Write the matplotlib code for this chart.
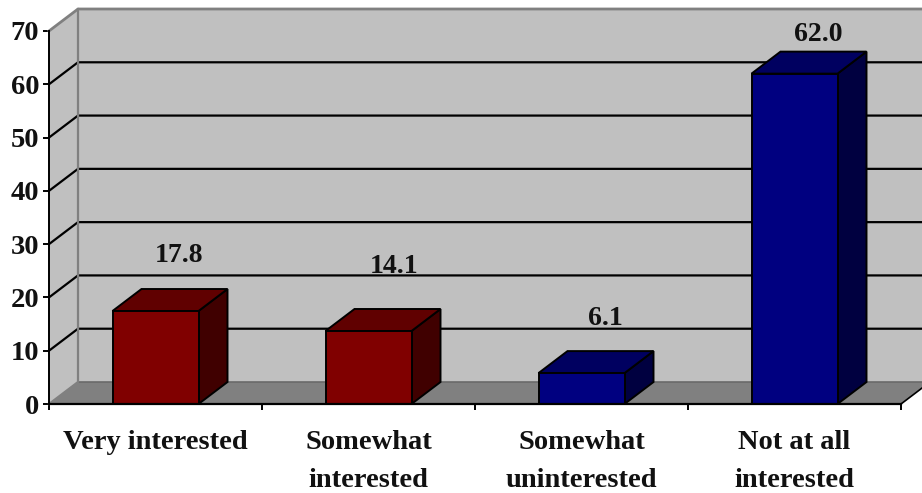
import matplotlib
matplotlib.use("Agg")
import matplotlib.pyplot as plt
from matplotlib.patches import Polygon

plt.rcParams['font.family'] = ['Liberation Serif', 'DejaVu Serif']
plt.rcParams['font.weight'] = 'bold'

categories = ["Very interested", "Somewhat\ninterested", "Somewhat\nuninterested", "Not at all\ninterested"]
value_labels = ["17.8", "14.1", "6.1", "62.0"]
# bar heights as drawn in the picture
heights = [17.45, 13.7, 5.8, 62.0]
y_ticks = [0, 10, 20, 30, 40, 50, 60, 70]

front_colors = ["#800000", "#800000", "#000080", "#000080"]
top_colors = ["#600000", "#600000", "#000060", "#000060"]
side_colors = ["#400000", "#400000", "#000040", "#000040"]
# label offset from the bar top, pixels right / up
label_offsets = [(23, 56), (26, 64), (24, 55), (24, 39)]

# pixel layout of the 3d box
px_per_band = 213
px_per_unit = 373 / 70
depth_x = 29 / px_per_band
depth_y = 22 / px_per_unit
bar_w = 86 / px_per_band

fig = plt.figure(figsize=(9.22, 4.93), dpi=100)
ax = fig.add_axes([0, 0, 1, 1])
ax.set_xlim(-49 / px_per_band, (922 - 49) / px_per_band)
ax.set_ylim(-(493 - 404) / px_per_unit, 404 / px_per_unit)
ax.patch.set_alpha(0)

n = len(categories)
x_right = (922 - 49) / px_per_band + 0.1
top = y_ticks[-1]
gray = "#808080"

# walls and floor
ax.add_patch(Polygon([(depth_x, depth_y), (x_right, depth_y), (x_right, top + depth_y), (depth_x, top + depth_y)],
                     fc="#c0c0c0", ec="none", zorder=1))
ax.add_patch(Polygon([(0, 0), (depth_x, depth_y), (depth_x, top + depth_y), (0, top)],
                     fc="#c0c0c0", ec="none", zorder=1))
ax.add_patch(Polygon([(0, 0), (x_right, 0), (x_right, depth_y), (depth_x, depth_y)],
                     fc=gray, ec="none", zorder=1))
ax.add_patch(Polygon([(n, 0), (x_right, 0), (x_right, depth_y * (x_right - n) / depth_x)],
                     fc="white", ec="none", zorder=1.2))
ax.plot([n, x_right], [0, depth_y * (x_right - n) / depth_x], color="black", lw=1.2, zorder=1.5)

# grid lines
for v in y_ticks[1:-1]:
    ax.plot([0, depth_x, x_right], [v, v + depth_y, v + depth_y], color="black", lw=1.6, zorder=2)
ax.plot([depth_x, x_right], [depth_y, depth_y], color="#6a6a6a", lw=1.2, zorder=2)
ax.plot([0, depth_x, depth_x], [0, depth_y, top + depth_y], color=gray, lw=1.6, zorder=2)
ax.plot([0, depth_x, x_right], [top, top + depth_y, top + depth_y], color=gray, lw=2, zorder=2)

# bars
for i, h in enumerate(heights):
    x0 = i + 0.5 - bar_w / 2
    x1 = x0 + bar_w
    ax.add_patch(Polygon([(x1, 0), (x1 + depth_x, depth_y), (x1 + depth_x, h + depth_y), (x1, h)],
                         fc=side_colors[i], ec="black", lw=1.4, zorder=3))
    ax.add_patch(Polygon([(x0, h), (x0 + depth_x, h + depth_y), (x1 + depth_x, h + depth_y), (x1, h)],
                         fc=top_colors[i], ec="black", lw=1.4, zorder=3))
    ax.add_patch(Polygon([(x0, 0), (x1, 0), (x1, h), (x0, h)],
                         fc=front_colors[i], ec="black", lw=1.4, zorder=3))
    dx, dy = label_offsets[i]
    ax.annotate(value_labels[i], (i + 0.5, h), xytext=(dx * 0.72, dy * 0.72), textcoords="offset points",
                ha="center", va="center", fontsize=20, fontweight="bold", color="#111111", zorder=4)

# axes
for side in ["top", "right"]:
    ax.spines[side].set_visible(False)
ax.spines["left"].set_position(("data", 0))
ax.spines["bottom"].set_position(("data", 0))
ax.spines["left"].set_bounds(0, top)
ax.spines["bottom"].set_bounds(0, n)
ax.spines["left"].set_linewidth(1.4)
ax.spines["bottom"].set_linewidth(1.6)
ax.spines["left"].set_zorder(5)
ax.spines["bottom"].set_zorder(5)

ax.set_yticks(y_ticks)
ax.set_yticklabels([str(v) for v in y_ticks], fontsize=20.5, fontweight="bold", color="#111111")
ax.tick_params(axis="y", length=4.5, width=1.4, pad=2.5)
ax.set_xticks(range(n + 1))
ax.set_xticklabels([])
ax.tick_params(axis="x", which="major", length=4.5, width=1.4)
ax.set_xticks([i + 0.5 for i in range(n)], categories, minor=True)
ax.tick_params(axis="x", which="minor", length=0, pad=19, labelsize=20.5, labelcolor="#111111")
for lab in ax.get_xticklabels(minor=True):
    lab.set_fontweight("bold")
    lab.set_linespacing(1.64)

fig.savefig("out.png", dpi=100)
